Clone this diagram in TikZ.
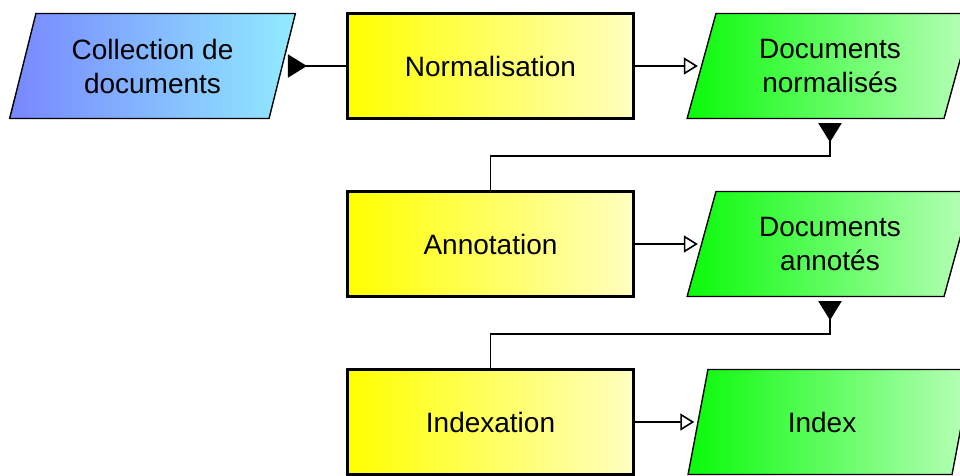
\documentclass[tikz,border=0pt]{standalone}
\usepackage{fontspec}
\setmainfont{Liberation Sans}
\usetikzlibrary{shapes.geometric,arrows.meta}

\definecolor{collL}{RGB}{120,135,255}
\definecolor{collR}{RGB}{145,235,255}
\definecolor{procL}{RGB}{255,255,0}
\definecolor{procR}{RGB}{255,255,192}
\definecolor{docL}{RGB}{10,250,10}
\definecolor{docR}{RGB}{185,255,185}

\tikzset{
  lbl/.style={font=\fontsize{28}{34}\selectfont, align=center, text=black},
  process/.style={lbl, rectangle, draw=black, line width=3pt,
    minimum width=286pt, minimum height=105pt, inner sep=0pt,
    left color=procL, right color=procR},
  data/.style={lbl, trapezium, trapezium left angle=71.5, trapezium right angle=108.5,
    trapezium stretches=true, draw=black, line width=1.4pt,
    minimum width=286pt, minimum height=105pt, inner sep=0pt},
  inputdata/.style={data, left color=collL, right color=collR},
  outputdata/.style={data, left color=docL, right color=docR},
  conn/.style={draw=black, line width=1.8pt},
  feeds/.style={conn, {Triangle[reversed, length=19pt, width=23pt]}-},
  yields/.style={conn, -{Triangle[open, length=14pt, width=17pt, line width=1.6pt]}}
}

\begin{document}
\begin{tikzpicture}[x=1pt, y=-1pt]
  \path[use as bounding box, clip] (0,0) rectangle (960,475);

  % input collection
  \node[inputdata] (coll) at (152.5,66) {Collection de\\documents};

  % processing steps
  \node[process] (norm)  at (490.5,66)  {Normalisation};
  \node[process] (annot) at (490.5,244) {Annotation};
  \node[process] (index) at (490.5,422) {Indexation};

  % produced documents
  \node[outputdata] (docn) at (830,66)  {Documents\\normalisés};
  \node[outputdata] (doca) at (830,244) {Documents\\annotés};
  \node[outputdata] (idx)  at (830,422) {Index\hspace*{16pt}};

  % inputs of each step
  \draw[feeds, shorten <=5pt] (coll.east) -- (norm.west);
  \draw[feeds, shorten <=4pt] (docn.south -| docn.center) -- ++(0,36.5) -| (annot.north);
  \draw[feeds, shorten <=4pt] (doca.south -| doca.center) -- ++(0,36.5) -| (index.north);

  % outputs of each step
  \draw[yields, shorten >=3pt] (norm.east) -- (docn.west);
  \draw[yields, shorten >=3pt] (annot.east) -- (doca.west);
  \draw[yields, shorten >=3pt] (index.east) -- (idx.west);
\end{tikzpicture}
\end{document}
